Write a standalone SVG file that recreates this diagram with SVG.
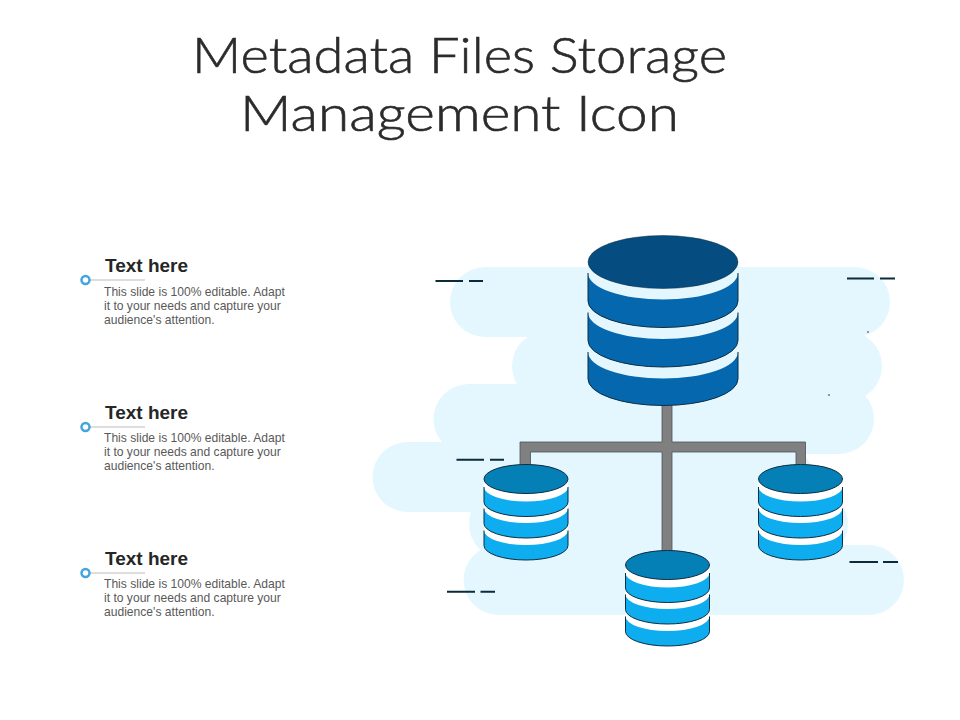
<svg xmlns="http://www.w3.org/2000/svg" width="960" height="720" viewBox="0 0 960 720">
<style>
.title{font-family:"Lato","Liberation Sans",sans-serif;font-weight:300;font-size:50px;fill:#2b2b2b;stroke:#2b2b2b;stroke-width:.6}
.h{font-family:"Liberation Sans",Arial,sans-serif;font-weight:700;font-size:19px;fill:#262626}
.b{font-family:"Liberation Sans",Arial,sans-serif;font-size:12.100px;fill:#595959}
.cloud{fill:#e4f7ff}
.dash{stroke:#0b2a3a;stroke-width:2;fill:none}
.lead{stroke:#a6a6a6;stroke-width:.75;fill:none}
.dot{fill:#fff;stroke:#42a5e0;stroke-width:2.500}
.edge{stroke:#0d2d40;stroke-width:1;fill:none}
.bigtop{fill:#054c80}.bigband{fill:#0568ae}
.smalltop{fill:#0580b6}.smallband{fill:#0dadf0}
.body{fill:#fff}
.pipe{fill:#808080;stroke:#47535b;stroke-width:.8}
</style>
<defs>
<g id="bigBands">
<path class="bigband" d="M-75 11A75 26.500 0 0 0 75 11V39A75 26.500 0 0 1 -75 39Z"/>
<path class="edge" d="M-75 11V39A75 26.500 0 0 0 75 39V11"/>
<path class="bigband" d="M-75 50.500A75 26.500 0 0 0 75 50.500V78.500A75 26.500 0 0 1 -75 78.500Z"/>
<path class="edge" d="M-75 50.500V78.500A75 26.500 0 0 0 75 78.500V50.500"/>
<path class="bigband" d="M-75 90A75 26.500 0 0 0 75 90V117A75 26.500 0 0 1 -75 117Z"/>
<path class="edge" d="M-75 90V117A75 26.500 0 0 0 75 117V90"/>
<ellipse class="bigtop" cx="0" cy="0" rx="75" ry="26.500"/>
<ellipse class="edge" cx="0" cy="0" rx="75" ry="26.500" stroke-opacity=".5"/>
</g>
<g id="smallCyl">
<path class="body" d="M-42 0A42 14.500 0 0 1 42 0V66.500A42 14.500 0 0 1 -42 66.500Z"/>
<path class="smallband" d="M-42 8A42 14.500 0 0 0 42 8V23A42 14.500 0 0 1 -42 23Z"/>
<path class="edge" d="M-42 8V23A42 14.500 0 0 0 42 23V8"/>
<path class="smallband" d="M-42 29.500A42 14.500 0 0 0 42 29.500V44.500A42 14.500 0 0 1 -42 44.500Z"/>
<path class="edge" d="M-42 29.500V44.500A42 14.500 0 0 0 42 44.500V29.500"/>
<path class="smallband" d="M-42 51.500A42 14.500 0 0 0 42 51.500V66.500A42 14.500 0 0 1 -42 66.500Z"/>
<path class="edge" d="M-42 51.500V66.500A42 14.500 0 0 0 42 66.500V51.500"/>
<ellipse class="smalltop" cx="0" cy="0" rx="42" ry="14.500"/>
<ellipse class="edge" cx="0" cy="0" rx="42" ry="14.500"/>
</g>
</defs>
<g id="title">
<text class="title" x="459.500" y="73" text-anchor="middle" textLength="535" lengthAdjust="spacingAndGlyphs">Metadata Files Storage</text>
<text class="title" x="459.500" y="131" text-anchor="middle" textLength="439" lengthAdjust="spacingAndGlyphs">Management Icon</text>
</g>
<g id="clouds">
<rect class="cloud" x="450" y="267" width="440" height="70" rx="35"/>
<rect class="cloud" x="512" y="331" width="370" height="70" rx="35"/>
<rect class="cloud" x="433.500" y="384" width="440.500" height="70" rx="35"/>
<rect class="cloud" x="372.500" y="442" width="440" height="70" rx="35"/>
<rect class="cloud" x="469" y="489" width="379" height="70" rx="35"/>
<rect class="cloud" x="463.500" y="545" width="440.500" height="70" rx="35"/>
</g>
<g id="connectors">
<path class="pipe" d="M662 400H672V442H805.500V470H796V452H672V555H662V452H530.500V470H520V442H662Z"/>
</g>
<g id="db-main"><use href="#bigBands" x="663" y="262"/></g>
<g id="db-left"><use href="#smallCyl" x="526" y="479"/></g>
<g id="db-right"><use href="#smallCyl" x="800.500" y="479"/></g>
<g id="db-bottom"><use href="#smallCyl" x="667.500" y="565"/></g>
<g id="dashes">
<path class="dash" d="M435.500 281H463M469 281H483"/>
<path class="dash" d="M847 278.500H874M880 278.500H895"/>
<path class="dash" d="M456.500 459.700H484M490 459.700H504"/>
<path class="dash" d="M447 591.700H475M480.500 591.700H495"/>
<path class="dash" d="M849.500 562H878M883 562H898"/>
<circle cx="868" cy="332" r=".8" fill="#0b2a3a"/>
<circle cx="829" cy="395" r=".8" fill="#0b2a3a"/>
</g>
<g id="item-1">
<path class="lead" d="M90 280H145"/><circle class="dot" cx="85.500" cy="280" r="4"/>
<text class="h" x="105" y="271.500">Text here</text>
<text class="b" x="104" y="296">This slide is 100% editable. Adapt</text>
<text class="b" x="104" y="310">it to your needs and capture your</text>
<text class="b" x="104" y="324">audience's attention.</text>
</g>
<g id="item-2">
<path class="lead" d="M90 427H145"/><circle class="dot" cx="85.500" cy="427" r="4"/>
<text class="h" x="105" y="418.500">Text here</text>
<text class="b" x="104" y="442">This slide is 100% editable. Adapt</text>
<text class="b" x="104" y="456">it to your needs and capture your</text>
<text class="b" x="104" y="470">audience's attention.</text>
</g>
<g id="item-3">
<path class="lead" d="M90 573H145"/><circle class="dot" cx="85.500" cy="573" r="4"/>
<text class="h" x="105" y="564.500">Text here</text>
<text class="b" x="104" y="588">This slide is 100% editable. Adapt</text>
<text class="b" x="104" y="602">it to your needs and capture your</text>
<text class="b" x="104" y="616">audience's attention.</text>
</g>
</svg>
